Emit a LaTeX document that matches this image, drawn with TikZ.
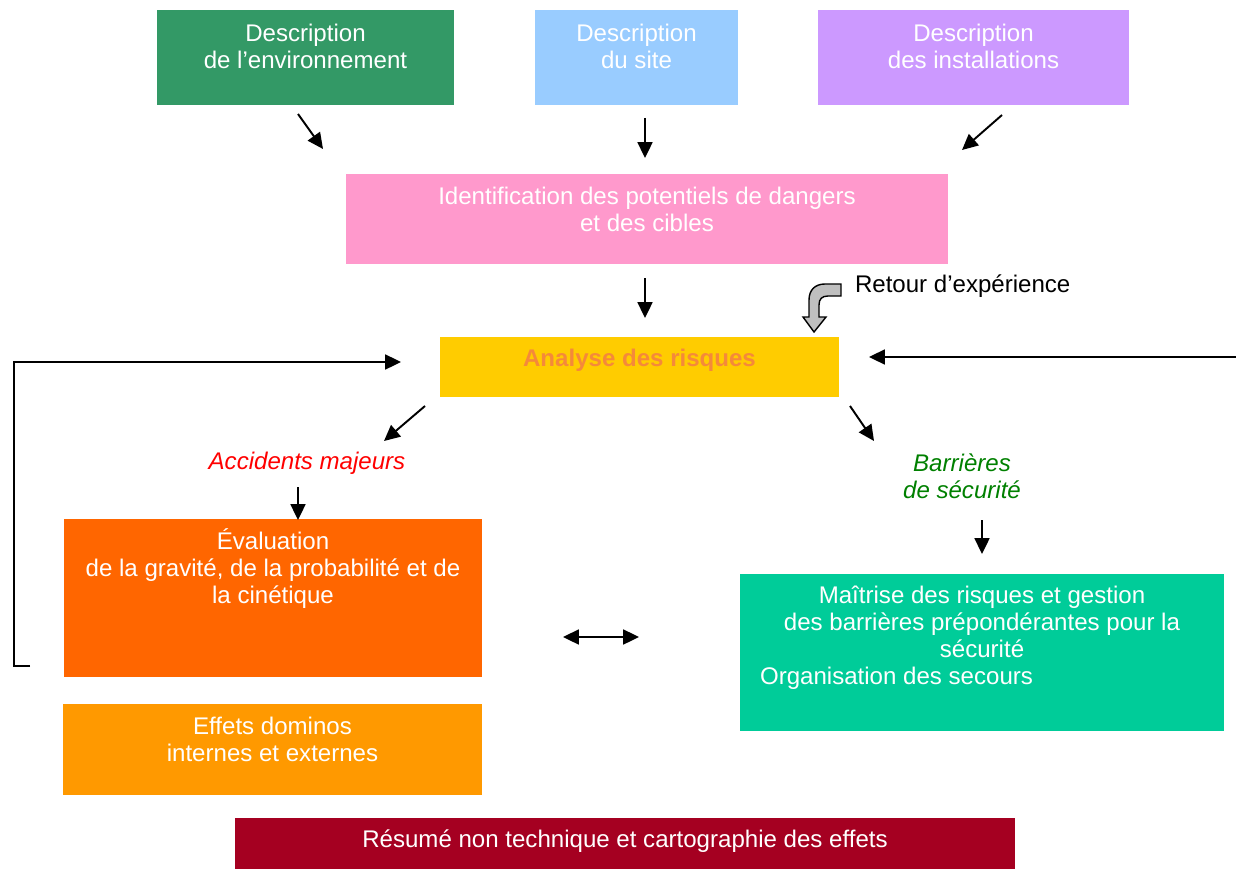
\documentclass[tikz,border=0pt]{standalone}
\usepackage{fontspec}
\setmainfont{Liberation Sans}
\usetikzlibrary{arrows.meta}
\usetikzlibrary{fit}
\usetikzlibrary{positioning}
\usepackage{xcolor}

\definecolor{envgreen}{HTML}{339966}
\definecolor{siteblue}{HTML}{99CCFF}
\definecolor{instviolet}{HTML}{CC99FF}
\definecolor{identpink}{HTML}{FF99CC}
\definecolor{anayellow}{HTML}{FFCC00}
\definecolor{anatext}{HTML}{F5893A}
\definecolor{evalorange}{HTML}{FF6600}
\definecolor{domorange}{HTML}{FF9900}
\definecolor{maitgreen}{HTML}{00CC99}
\definecolor{resred}{HTML}{A50021}
\definecolor{barrgreen}{HTML}{008000}
\definecolor{retgray}{HTML}{BFBFBF}

\tikzset{
  box/.style={inner sep=0pt,outer sep=0pt},
  lbl/.style={align=center,text=white,inner sep=0pt,outer sep=0pt,
    font=\fontsize{13.7}{15.4}\selectfont},
  arr/.style={line width=1.1pt,-{Triangle[length=9pt,width=8.5pt]}},
}

\begin{document}
\begin{tikzpicture}[x=0.02cm,y=-0.02cm]
  \useasboundingbox (0,0) rectangle (1236,868);
  %% boxes
  \node[box,fill=envgreen,fit={(157,10) (454,105)}](env){};
  \node[box,fill=siteblue,fit={(535,10) (738,105)}](site){};
  \node[box,fill=instviolet,fit={(818,10) (1129,105)}](inst){};
  \node[box,fill=identpink,fit={(346,174) (948,264)}](ident){};
  \node[box,fill=anayellow,fit={(440,337) (839,397)}](ana){};
  \node[box,fill=evalorange,fit={(64,519) (482,677)}](eval){};
  \node[box,fill=domorange,fit={(63,704) (482,795)}](dom){};
  \node[box,fill=maitgreen,fit={(740,574) (1224,731)}](mait){};
  \node[box,fill=resred,fit={(235,818) (1015,880)}](res){};
  %% texts
  \node[lbl,below=0.28cm of env.north](envtxt){Description\\de l’environnement};
  \node[lbl,below=0.28cm of site.north](sitetxt){Description\\du site};
  \node[lbl,below=0.28cm of inst.north](insttxt){Description\\des installations};
  \node[lbl,below=0.26cm of ident.north](identtxt)
       {Identification des potentiels de dangers\\et des cibles};
  \node[lbl,below=0.24cm of ana.north,text=anatext,font=\fontsize{13.7}{15.4}\selectfont\bfseries]
       (anatxt){Analyse des risques};
  \node[lbl,below=0.20cm of eval.north](evaltxt)
       {Évaluation\\de la gravité, de la probabilité et de\\la cinétique};
  \node[lbl,below=0.26cm of dom.north](domtxt){Effets dominos\\internes et externes};
  \node[lbl,below=0.24cm of mait.north](maittxt)
       {Maîtrise des risques et gestion\\des barrières prépondérantes pour la\\sécurité\\
        \makebox[8.88cm][l]{Organisation des secours}};
  \node[lbl,below=0.24cm of res.north](restxt)
       {Résumé non technique et cartographie des effets};
  \node[lbl,text=red,font=\fontsize{13.7}{15.4}\selectfont\itshape](acc) at (307,463)
       {Accidents majeurs};
  \node[lbl,text=barrgreen,font=\fontsize{13.7}{15.4}\selectfont\itshape](barr) at (962,476)
       {Barrières\\de sécurité};
  \node[lbl,text=black,anchor=west](retour) at (855,286) {Retour d’expérience};
  %% short arrows
  \coordinate (e1) at (298,114); \coordinate (e2) at (323,149);
  \coordinate (s1) at (645,118); \coordinate (s2) at (645,158);
  \coordinate (i1) at (1002,115); \coordinate (i2) at (962,150);
  \coordinate (d1) at (645,278); \coordinate (d2) at (645,318);
  \coordinate (a1) at (425,406); \coordinate (a2) at (384,441);
  \coordinate (b1) at (850,406); \coordinate (b2) at (874,441);
  \coordinate (m1) at (298,487); \coordinate (m2) at (298,520);
  \coordinate (g1) at (982,520); \coordinate (g2) at (982,554);
  \coordinate (h1) at (563,637); \coordinate (h2) at (639,637);
  \draw[arr](e1)--(e2);
  \draw[arr](s1)--(s2);
  \draw[arr](i1)--(i2);
  \draw[arr](d1)--(d2);
  \draw[arr](a1)--(a2);
  \draw[arr](b1)--(b2);
  \draw[arr](m1)--(m2);
  \draw[arr](g1)--(g2);
  \draw[arr,{Triangle[length=9pt,width=8.5pt]}-{Triangle[length=9pt,width=8.5pt]}](h1)--(h2);
  %% feedback loops
  \coordinate (l1) at (30,666); \coordinate (l2) at (401,362);
  \draw[arr](l1)-|(14,362)--(l2);
  \coordinate (r1) at (1236,357); \coordinate (r2) at (869,357);
  \draw[arr](r1)--(r2);
  %% retour arrow
  \draw[fill=retgray,line width=0.8pt,line join=miter]
    (841,284)--(825,284) .. controls (815,284) and (809,290) .. (809,300)
    --(809,317)--(803,317)--(814,332)--(826,317)--(819,317)--(819,305)
    .. controls (819,299) and (822,296) .. (828,296)--(841,296)--cycle;
\end{tikzpicture}
\end{document}
